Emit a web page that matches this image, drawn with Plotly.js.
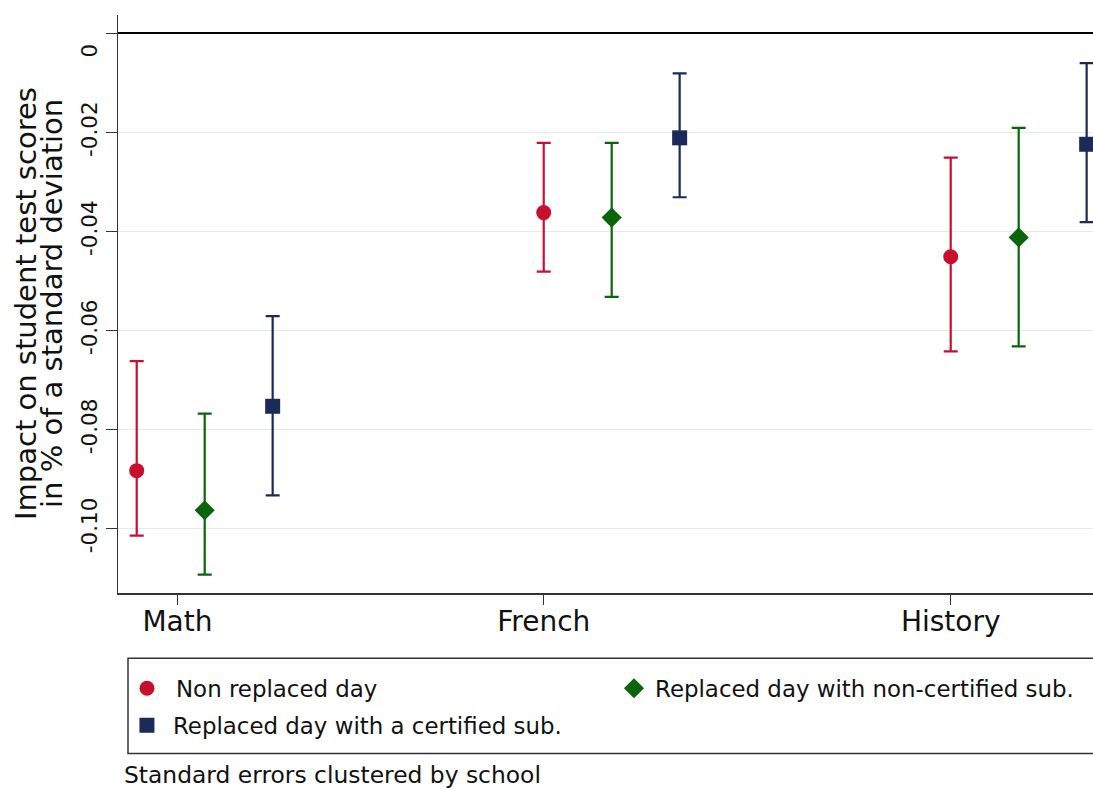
<!DOCTYPE html>
<html>
<head>
<meta charset="utf-8">
<script src="https://cdn.plot.ly/plotly-3.0.1.min.js"></script>
<style>
  html, body { margin: 0; padding: 0; background: #fff; overflow: hidden; }
  #chart { width: 1093px; height: 789px; }
</style>
</head>
<body>
<div id="chart"></div>
<script>
// ---------- data ----------
var categories = ['Math', 'French', 'History'];
var seriesNames = ['Non replaced day', 'Replaced day with non-certified sub.', 'Replaced day with a certified sub.'];

var nonReplaced     = [-0.0883, -0.0362, -0.0451];
var nonReplacedHi   = [-0.0662, -0.0221, -0.0251];
var nonReplacedLo   = [-0.1014, -0.0481, -0.0642];

var nonCertified    = [-0.0963, -0.0372, -0.0412];
var nonCertifiedHi  = [-0.0768, -0.0221, -0.0191];
var nonCertifiedLo  = [-0.1093, -0.0532, -0.0632];

var certified       = [-0.0753, -0.0211, -0.0224];
var certifiedHi     = [-0.0571, -0.0081, -0.0060];
var certifiedLo     = [-0.0933, -0.0331, -0.0381];

var yTickVals  = [0, -0.02, -0.04, -0.06, -0.08, -0.10];
var yTickText  = ['0\u00a0\u00a0\u00a0\u00a0\u00a0\u00a0', '-0.02', '-0.04', '-0.06', '-0.08', '-0.10'];
var noteText = 'Standard errors clustered by school';
var yTitleLines = ['Impact on student test scores', 'in % of a standard deviation'];

// ---------- layout constants ----------
var seriesOffset = [0, 0.167, 0.334];
var catTickPos = [0.1, 1, 2];
var colors = ['#c8102e', '#0a640a', '#1b2a57'];
var symbols = ['circle', 'diamond', 'square'];
var sizes = [15, 15.5, 15];
var FONT = 'DejaVu Sans, sans-serif';

function mkTrace(k, vals, hi, lo, legendId) {
  var xs = vals.map(function (v, i) { return i + seriesOffset[k]; });
  return {
    type: 'scatter', mode: 'markers',
    name: seriesNames[k],
    x: xs, y: vals,
    legend: legendId,
    marker: { color: colors[k], symbol: symbols[k], size: sizes[k], line: { width: 0 } },
    error_y: {
      type: 'data', symmetric: false,
      array: hi.map(function (h, i) { return h - vals[i]; }),
      arrayminus: lo.map(function (l, i) { return vals[i] - l; }),
      color: colors[k], thickness: 2.2, width: 7
    },
    cliponaxis: true,
    hoverinfo: 'x+y'
  };
}

var traces = [
  mkTrace(0, nonReplaced, nonReplacedHi, nonReplacedLo, 'legend'),
  mkTrace(1, nonCertified, nonCertifiedHi, nonCertifiedLo, 'legend3'),
  mkTrace(2, certified, certifiedHi, certifiedLo, 'legend2')
];

var legendFont = { family: FONT, size: 22.9, color: '#111' };

var layout = {
  width: 1093, height: 789,
  margin: { l: 118, r: 0, t: 15, b: 196.3, pad: 0 },
  paper_bgcolor: '#ffffff', plot_bgcolor: '#ffffff',
  font: { family: FONT, color: '#111' },
  showlegend: true,
  xaxis: {
    range: [-0.046, 2.3496],
    tickmode: 'array', tickvals: catTickPos, ticktext: categories,
    ticks: 'outside', ticklen: 10, tickwidth: 1.5, tickcolor: '#333',
    ticklabelstandoff: -8,
    tickfont: { family: FONT, size: 28, color: '#111' },
    showline: true, linecolor: '#333', linewidth: 2,
    showgrid: false, zeroline: false, fixedrange: true
  },
  yaxis: {
    range: [-0.1130, 0.0037],
    tickmode: 'array', tickvals: yTickVals, ticktext: yTickText,
    tickangle: -90,
    ticks: 'outside', ticklen: 11, tickwidth: 1.5, tickcolor: '#333',
    tickfont: { family: FONT, size: 21.5, color: '#111' },
    showline: true, linecolor: '#333', linewidth: 1.5,
    showgrid: true, gridcolor: '#e3ebea', gridwidth: 1.2,
    zeroline: true, zerolinecolor: '#000', zerolinewidth: 2.2,
    fixedrange: true
  },
  legend: {
    orientation: 'h', x: 0, xanchor: 'left', y: -0.165, yanchor: 'middle',
    itemwidth: 48, font: legendFont,
    bgcolor: 'rgba(0,0,0,0)', borderwidth: 0
  },
  legend3: {
    orientation: 'h', x: 0.5077, xanchor: 'left', y: -0.165, yanchor: 'middle',
    itemwidth: 32, font: legendFont,
    bgcolor: 'rgba(0,0,0,0)', borderwidth: 0
  },
  legend2: {
    orientation: 'h', x: 0.003, xanchor: 'left', y: -0.229, yanchor: 'middle',
    itemwidth: 42, font: legendFont,
    bgcolor: 'rgba(0,0,0,0)', borderwidth: 0
  },
  shapes: [{
    type: 'rect', xref: 'paper', yref: 'paper',
    x0: 0.01026, x1: 1.05, y0: -0.2775, y1: -0.113,
    line: { color: '#333', width: 1.5 }, fillcolor: 'rgba(0,0,0,0)', layer: 'below'
  }],
  annotations: [
    { text: yTitleLines[0], xref: 'paper', yref: 'paper', x: 0, y: 0.5, xanchor: 'center', yanchor: 'middle',
      xshift: -92, textangle: -90, showarrow: false, font: { family: FONT, size: 29, color: '#111' } },
    { text: yTitleLines[1], xref: 'paper', yref: 'paper', x: 0, y: 0.5, xanchor: 'center', yanchor: 'middle',
      xshift: -66, textangle: -90, showarrow: false, font: { family: FONT, size: 29, color: '#111' } },
    { text: noteText, xref: 'paper', yref: 'paper', x: 0.005, y: -0.3145, xanchor: 'left', yanchor: 'middle',
      borderpad: 0, showarrow: false, font: { family: FONT, size: 23.4, color: '#111' } }
  ]
};

Plotly.newPlot('chart', traces, layout, { displayModeBar: false, staticPlot: true });
</script>
</body>
</html>
